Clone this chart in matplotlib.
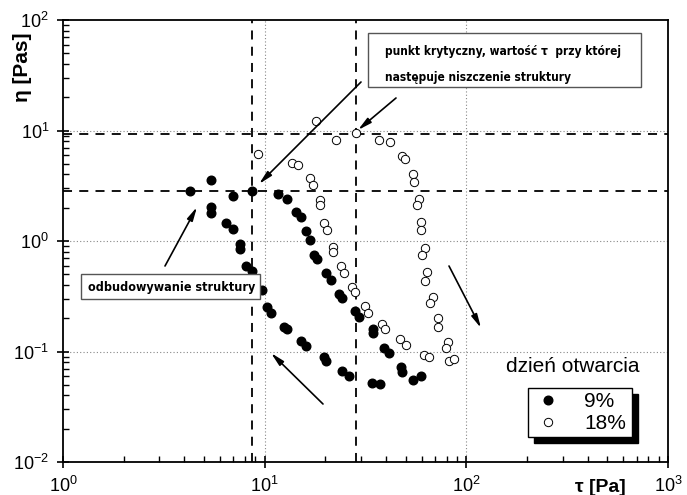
import matplotlib
matplotlib.use("Agg")
import matplotlib.pyplot as plt
from matplotlib.patches import Rectangle
from matplotlib.ticker import LogLocator, NullFormatter

# --- data (tau [Pa], eta [Pas]) ---
tau_9 = [4.28, 5.39, 5.39, 5.39, 7.0, 8.64, 6.46, 7.0, 7.55, 7.55, 8.06, 8.64, 9.66,
         10.3, 10.8, 12.5, 12.9, 15.1, 16.1, 19.6, 20.1, 24.1, 26.2, 34.1, 37.2,
         47.3, 48.0, 54.4, 59.9,
         11.7, 12.9, 14.3, 15.1, 16.1, 16.7, 17.6, 18.2, 20.1, 21.4, 23.4, 24.1,
         27.9, 29.3, 34.6, 34.6, 39.1, 41.5]
eta_9 = [2.85, 3.57, 2.02, 1.78, 2.57, 2.85, 1.45, 1.28, 0.93, 0.84, 0.60, 0.53, 0.36,
         0.255, 0.222, 0.168, 0.159, 0.125, 0.111, 0.0885, 0.0826, 0.0671, 0.060, 0.0522, 0.0508,
         0.0719, 0.0652, 0.0552, 0.060,
         2.66, 2.38, 1.83, 1.66, 1.23, 1.03, 0.746, 0.682, 0.516, 0.443, 0.329, 0.303,
         0.234, 0.207, 0.159, 0.146, 0.108, 0.0975]

tau_18 = [9.23, 13.6, 14.7, 16.7, 17.3, 18.0, 22.5, 28.3, 36.8, 41.7, 47.8, 49.7,
          54.2, 55.0, 58.4, 56.9, 59.9, 59.3, 62.3, 60.2, 63.9, 62.3, 68.3, 66.2,
          72.5, 72.5, 81.3, 78.9, 82.2, 86.4, 61.4, 65.6, 46.8, 50.2, 38.3, 39.4,
          31.3, 32.6, 27.2, 28.0, 23.8, 24.6, 21.9, 21.8, 19.6, 20.3, 18.9, 18.8]
eta_18 = [6.12, 5.05, 4.88, 3.69, 3.21, 12.3, 8.2, 9.55, 8.2, 7.8, 5.91, 5.48,
          4.04, 3.44, 2.38, 2.12, 1.50, 1.26, 0.859, 0.746, 0.527, 0.435, 0.313, 0.273,
          0.200, 0.166, 0.123, 0.108, 0.0826, 0.0855, 0.093, 0.0885, 0.129, 0.115, 0.177, 0.160,
          0.258, 0.221, 0.381, 0.343, 0.594, 0.509, 0.889, 0.80, 1.47, 1.26, 2.35, 2.12]

crit_tau = [8.64, 28.3]
crit_eta = [2.85, 9.3]

series_labels = ["9%", "18%"]
legend_title = "dzień otwarcia"

plt.rcParams['font.family'] = ['Liberation Sans', 'DejaVu Sans']
plt.rcParams['axes.unicode_minus'] = False

fig = plt.figure(figsize=(6.87, 4.95), dpi=100)
ax = fig.add_axes([63/687, 1-462/495, 605/687, 442/495])
ax.set_xscale('log')
ax.set_yscale('log')
ax.set_xlim(1, 1000)
ax.set_ylim(0.01, 100)
ax.set_autoscale_on(False)

# grid (dotted, decades)
for v in [10, 100]:
    ax.axvline(v, color='#888888', lw=0.8, ls=(0, (1, 2)), zorder=0)
for v in [0.1, 1, 10]:
    ax.axhline(v, color='#888888', lw=0.8, ls=(0, (1, 2)), zorder=0)

# critical dashed lines
for v in crit_tau:
    ax.axvline(v, color='black', lw=1.3, ls=(0, (5, 4)), zorder=1)
for v in crit_eta:
    ax.axhline(v, color='black', lw=1.3, ls=(0, (5, 4)), zorder=1)

h1, = ax.plot(tau_9, eta_9, 'o', color='black', ms=6.2, mec='black', zorder=3,
              label=series_labels[0])
h2, = ax.plot(tau_18, eta_18, 'o', mfc='white', mec='black', mew=0.7, ms=6.0, zorder=3,
              label=series_labels[1])

# ticks
ax.tick_params(axis='both', which='major', direction='inout', length=8, width=1.2,
               labelsize=13, pad=6, top=False, right=False)
ax.tick_params(axis='both', which='minor', direction='in', length=4, width=1.0,
               top=False, right=False)
ax.xaxis.set_major_locator(LogLocator(base=10, numticks=10))
ax.yaxis.set_major_locator(LogLocator(base=10, numticks=10))
ax.xaxis.set_minor_locator(LogLocator(base=10, subs=range(2, 10), numticks=20))
ax.yaxis.set_minor_locator(LogLocator(base=10, subs=range(2, 10), numticks=20))
ax.xaxis.set_minor_formatter(NullFormatter())
ax.yaxis.set_minor_formatter(NullFormatter())
for s in ax.spines.values():
    s.set_linewidth(1.3)

ax.set_ylabel('η [Pas]', fontsize=15, fontweight='bold')
ax.yaxis.set_label_coords(-0.051, 0.894)
fig.text(600/687, 1-488/495, 'τ [Pa]', fontsize=14, fontweight='bold', ha='center', va='center')

# annotation boxes
bold_font = dict(family='DejaVu Sans', fontweight='bold', fontstretch='condensed')
ax.add_patch(Rectangle((368, 495-87), 273, 54, transform=None, fill=True, fc='white',
                       ec='#555555', lw=1.0, zorder=4))
fig.text(385/687, 1-51/495, 'punkt krytyczny, wartość τ  przy której', va='center', ha='left',
         zorder=5, fontsize=8.6, **bold_font)
fig.text(385/687, 1-77/495, 'następuje niszczenie struktury', va='center', ha='left',
         zorder=5, fontsize=8.6, **bold_font)
ax.add_patch(Rectangle((81, 495-299), 179, 25, transform=None, fill=True, fc='white',
                       ec='#555555', lw=1.0, zorder=4))
fig.text(172/687, 1-288/495, 'odbudowywanie struktury', va='center', ha='center', zorder=5,
         fontsize=9.0, **bold_font)

# arrows (pixel coords -> figure fraction)
def pix(x, y):
    return (x/687, 1-y/495)

arrows = [((361, 82), (259, 184)), ((396, 98), (358, 130)), ((165, 266), (197, 207)),
          ((323, 404), (271, 353)), ((449, 266), (481, 328))]
for (s, e) in arrows:
    ax.annotate('', xy=pix(*e), xytext=pix(*s), xycoords='figure fraction',
                textcoords='figure fraction',
                arrowprops=dict(arrowstyle='-|>,head_length=0.8,head_width=0.18',
                                color='black', lw=1.2, shrinkA=0, shrinkB=0), zorder=6)

# legend
fig.text(573/687, 1-367/495, legend_title, fontsize=15, ha='center', va='center')
leg = ax.legend(handles=[h1, h2], loc='lower left', bbox_to_anchor=(0.769, 0.056, 0.171, 0.123),
                mode='expand', frameon=True, fancybox=False, edgecolor='black', fontsize=15,
                handletextpad=1.0, borderpad=0.2, labelspacing=0.15, handlelength=1.5,
                markerscale=1.0, borderaxespad=0, framealpha=1.0)
leg.get_frame().set_linewidth(1.0)
leg.set_zorder(8)
fig.canvas.draw()
bb = leg.get_window_extent()
ax.add_patch(Rectangle((bb.x0 + 6, bb.y0 - 6), bb.width, bb.height, transform=None,
                       fc='black', ec='black', zorder=7))

fig.savefig('out.png', dpi=100)
